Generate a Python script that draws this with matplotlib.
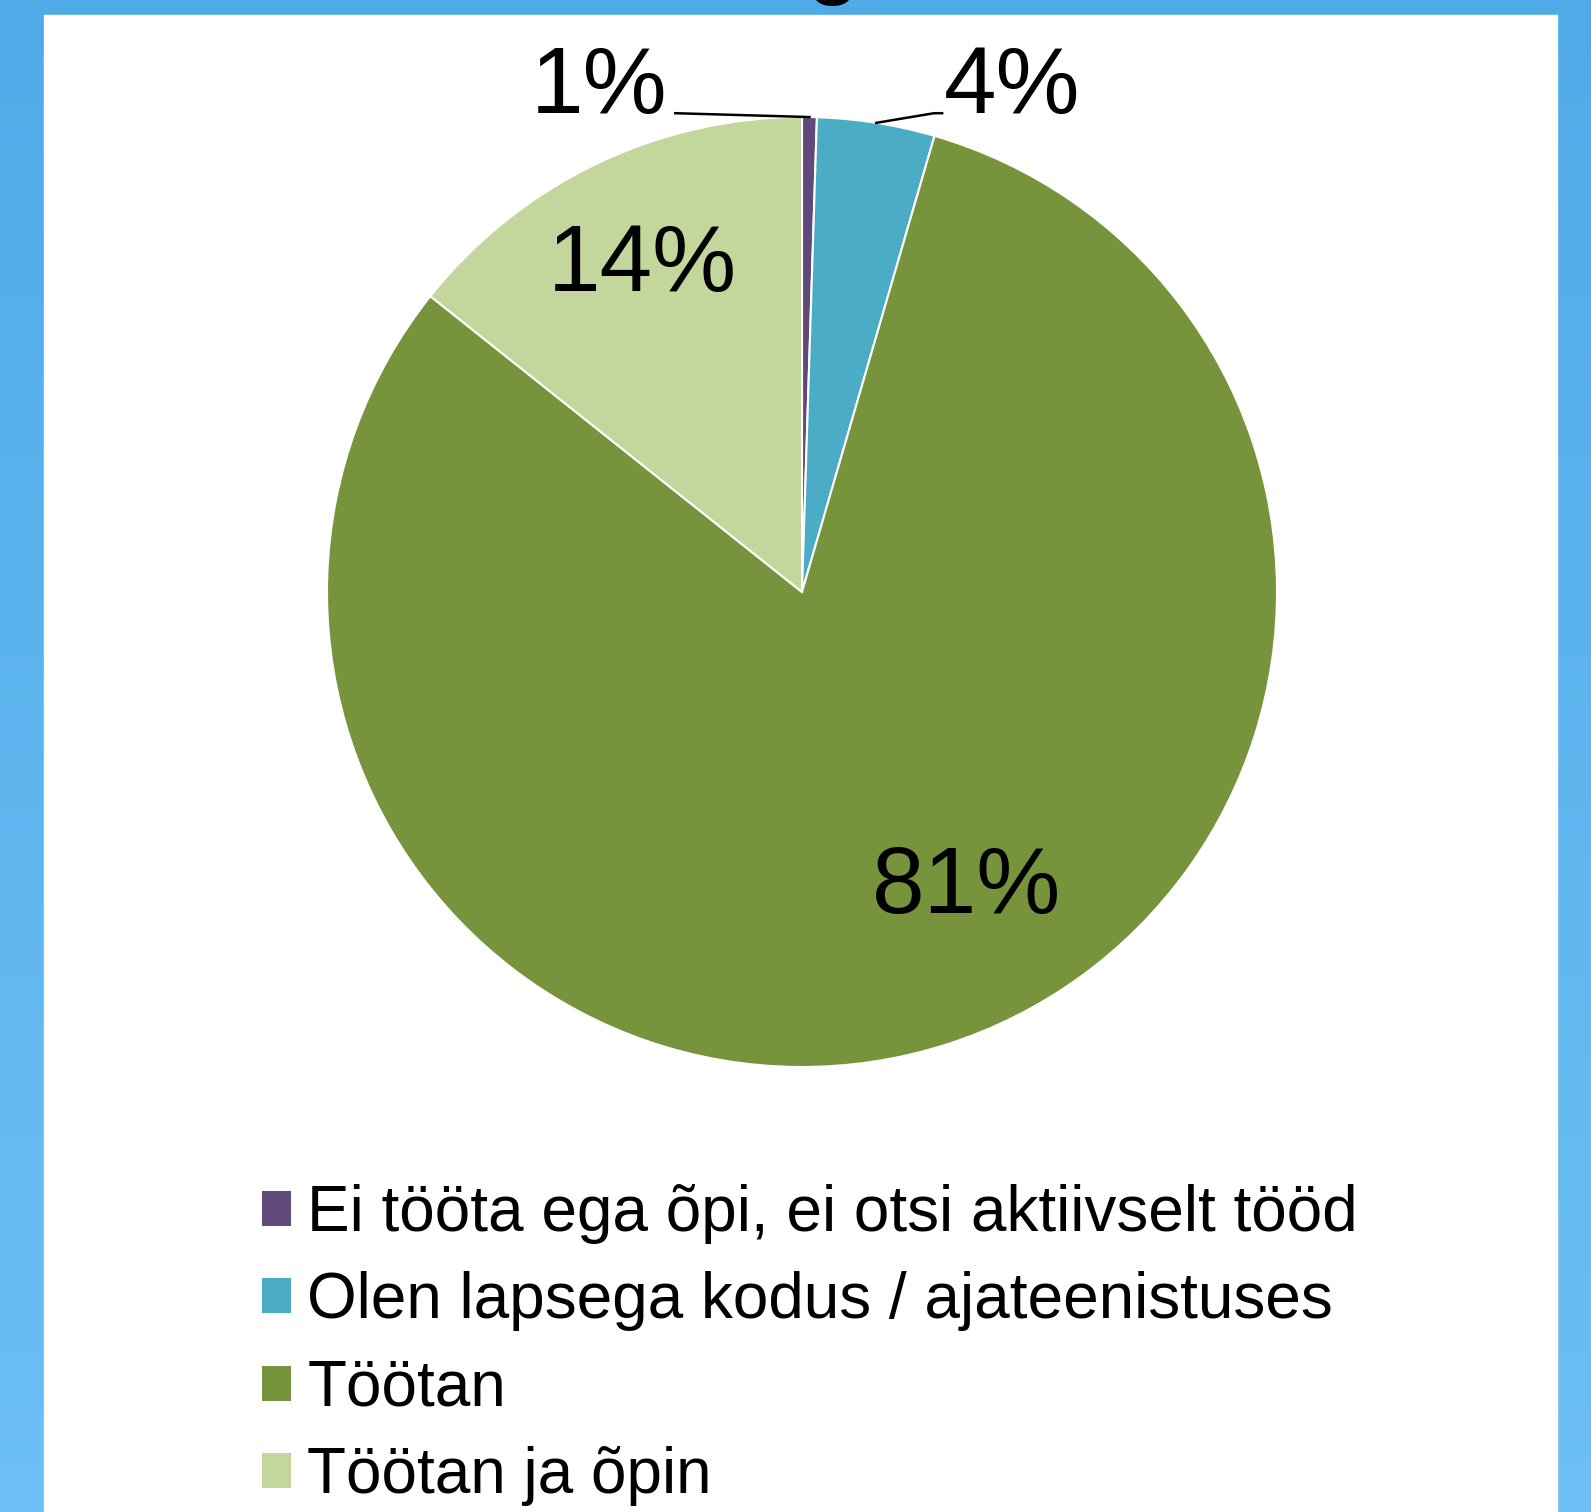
import numpy as np
import matplotlib

matplotlib.use("Agg")
import matplotlib.pyplot as plt
from matplotlib.patches import Patch, Rectangle

plt.rcParams["font.family"] = ["Liberation Sans", "DejaVu Sans"]

# survey answers (share of respondents, %)
categories = [
    "Ei tööta ega õpi, ei otsi aktiivselt tööd",
    "Olen lapsega kodus / ajateenistuses",
    "Töötan",
    "Töötan ja õpin",
]
shares = [0.5, 4.0, 81.2, 14.3]
pct_labels = ["1%", "4%", "81%", "14%"]
colors = ["#604A7B", "#4BACC6", "#77933C", "#C3D69B"]

W, H = 1591, 1512
fig = plt.figure(figsize=(W / 100, H / 100), dpi=100)

# blue slide background with a soft vertical gradient
bg = fig.add_axes([0, 0, 1, 1])
grad = np.linspace(0, 1, 256)[:, None]
cmap = matplotlib.colors.LinearSegmentedColormap.from_list("bg", ["#4FABE8", "#6DBFF5"])
bg.imshow(grad, aspect="auto", cmap=cmap, extent=[0, 1, 0, 1], origin="upper")
bg.add_patch(Rectangle((44 / W, 0), (1557 - 44) / W, (H - 15) / H, color="white", zorder=2))
bg.set_xlim(0, 1)
bg.set_ylim(0, 1)
bg.axis("off")
# bottom of the cut-off slide title
bg.text(833 / W, 1 + 11 / H, "g", fontsize=60, fontweight="bold", ha="center",
        va="baseline", color="black", zorder=3)

# pie: centre (802, 592) px, radius 475 px
cx, cy, r = 802, 592, 475
ax = fig.add_axes([(cx - r) / W, 1 - (cy + r) / H, 2 * r / W, 2 * r / H])
wedges, _ = ax.pie(shares, colors=colors, startangle=90, counterclock=False,
                   wedgeprops=dict(edgecolor="white", linewidth=1.5))
ax.set_xlim(-1, 1)
ax.set_ylim(-1, 1)
ax.set_aspect("equal")
ax.axis("off")

label_pos = [(-0.427, 1.061), (0.442, 1.061), (0.347, -0.624), (-0.337, 0.686)]
for w, txt, (lx, ly) in zip(wedges, pct_labels, label_pos):
    ax.text(lx, ly, txt, fontsize=68, ha="center", va="center", color="black")

# leader lines for the two thin slices
def edge_point(w):
    a = np.deg2rad((w.theta1 + w.theta2) / 2)
    return np.cos(a), np.sin(a)

px, py = edge_point(wedges[0])
ax.plot([-0.267, px], [1.008, py], color="black", lw=1.8, clip_on=False)
px, py = edge_point(wedges[1])
ax.plot([px, 0.278, 0.295], [py, 1.008, 1.008], color="black", lw=1.8, clip_on=False)

handles = [Patch(facecolor=c, edgecolor="none") for c in colors]
fig.legend(handles, categories, loc="upper left",
           bbox_to_anchor=(262 / W, 1 - 1184 / H), frameon=False, fontsize=46,
           handlelength=0.46, handleheight=0.46, handletextpad=0.25,
           labelspacing=0.43, borderpad=0, borderaxespad=0)

fig.savefig("out.png", dpi=100)
